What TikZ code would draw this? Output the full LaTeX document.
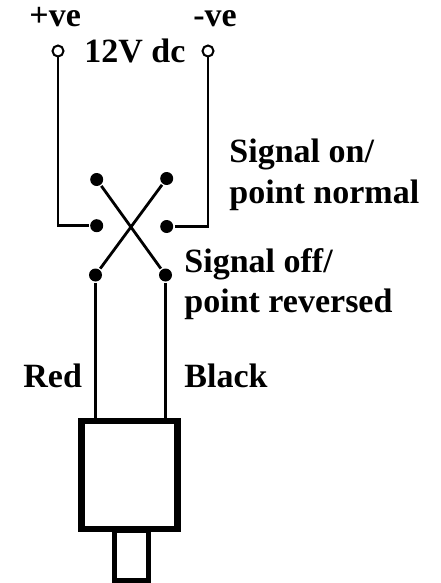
\documentclass[tikz,border=0pt]{standalone}
\usepackage{fontspec}
\setmainfont{Liberation Serif}
\usetikzlibrary{positioning}

\newcommand\lblfont{\fontsize{34}{41}\selectfont\bfseries}

\begin{document}
\begin{tikzpicture}[x=1pt,y=-1pt,line width=2.8pt,
  terminal/.style={circle,draw,line width=2pt,fill=white,inner sep=0pt,minimum size=11pt},
  contact/.style={circle,fill,inner sep=0pt,minimum size=13pt},
  lbl/.style={font=\lblfont,inner sep=0pt,anchor=base west},
  plugbox/.style={rectangle,draw,line width=6.7pt,inner sep=0pt,minimum width=95.6pt,minimum height=108pt},
  tipbox/.style={rectangle,draw,line width=5pt,inner sep=0pt,minimum width=34.1pt,minimum height=50.5pt}]

  \useasboundingbox (0,0) rectangle (441,583);

  % supply terminals
  \node[terminal] (pos) at (58,51) {};
  \node[terminal] (neg) at (208,51) {};

  % switch contacts
  \node[contact] (onl) at (96.7,179.5) {};
  \node[contact] (onr) at (166.7,178.5) {};
  \node[contact] (norml) at (96.7,225.7) {};
  \node[contact] (normr) at (166.7,226.5) {};
  \node[contact] (revl) at (95.5,275) {};
  \node[contact] (revr) at (165.5,275) {};

  % plug
  \node[plugbox] (plug) at (129.5,475) {};
  \node[tipbox] (tip) at (131.3,555.3) {};

  % wiring
  \draw (pos) |- (norml);
  \draw (neg) |- (normr);
  \draw (onl) -- (revr);
  \draw (onr) -- (revl);
  \draw (revl) -- (revl |- plug.north);
  \draw (revr) -- (revr |- plug.north);

  % labels
  \node[lbl] (plus) at (28,27) {+ve};
  \node[lbl] (minus) at (192,27) {-ve};
  \node[lbl] (volts) at (83,63) {12V dc};
  \node[lbl] (sigon) at (228,162) {Signal on/};
  \node[lbl] (ptnormal) at (228,203) {point normal};
  \node[lbl] (sigoff) at (183,272) {Signal off/};
  \node[lbl] (ptrev) at (183,312) {point reversed};
  \node[lbl] (red) at (22,387) {Red};
  \node[lbl] (black) at (183,387) {Black};
\end{tikzpicture}
\end{document}
